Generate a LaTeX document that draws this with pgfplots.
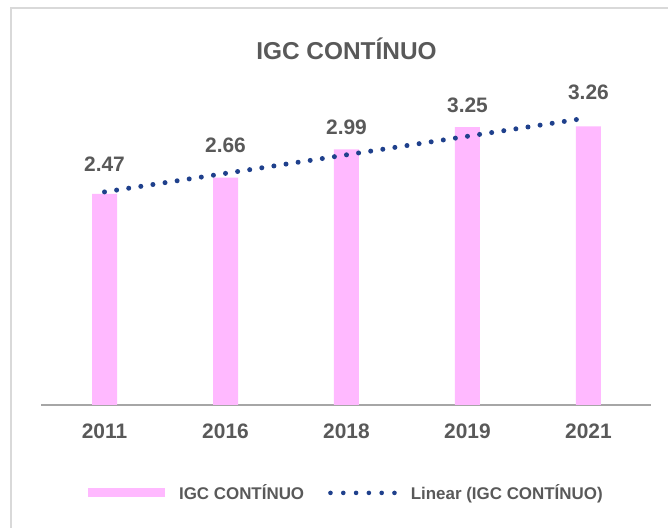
\documentclass[border=0pt]{standalone}
\usepackage{pgfplots}
\pgfplotsset{compat=1.18}
\usepackage{fontspec}
\setmainfont{Liberation Sans}
\definecolor{barpink}{RGB}{255,185,255}
\definecolor{trendblue}{RGB}{31,64,140}
\definecolor{txtgray}{RGB}{89,89,89}
\definecolor{axgray}{RGB}{166,166,166}
\definecolor{framegray}{RGB}{217,217,217}
\begin{document}
\begin{tikzpicture}[x=1bp,y=1bp]
\useasboundingbox (0,0) rectangle (668,528);
\draw[framegray, line width=1.5bp] (11,0) -- (11,520) -- (668,520);
\node[anchor=base, font=\fontsize{24.5}{29}\selectfont\bfseries, text=txtgray, inner sep=0pt] at (346.5,468.7) {IGC CONTÍNUO};
\begin{axis}[
  at={(41bp,123bp)}, anchor=south west, scale only axis,
  width=610bp, height=342bp,
  xmin=0.475, xmax=5.517, ymin=0, ymax=4,
  axis lines=left, axis y line=none,
  axis line style={-, axgray, line width=1.5bp},
  xtick={1,2,3,4,5}, xticklabels={2011,2016,2018,2019,2021},
  major tick length=0pt,
  xticklabel style={anchor=center, yshift=-26.7bp, inner sep=0pt,
    font=\fontsize{21}{25}\selectfont\bfseries, text=txtgray},
  ytick=\empty,
  clip=false,
  legend columns=2,
  legend style={at={(0.499,-0.257)}, anchor=center, draw=none, fill=none,
    inner sep=0pt, nodes={inner sep=0pt},
    font=\fontsize{17}{20}\selectfont\bfseries, text=txtgray,
    /tikz/every odd column/.append style={column sep=14bp},
    /tikz/every even column/.append style={column sep=24bp}},
  legend cell align=left,
]
\addplot[ybar, bar width=25bp, bar shift=0pt, fill=barpink, draw=none,
  legend image code/.code={\fill[barpink] (0bp,-4.5bp) rectangle (77bp,4.5bp);}]
  coordinates {(1,2.47) (2,2.66) (3,2.99) (4,3.25) (5,3.26)};
\addlegendentry{IGC CONTÍNUO}
\addplot[trendblue, line width=5bp, line cap=round, dash pattern=on 0pt off 12.24bp, mark=none,
  legend image code/.code={\draw[trendblue, line width=4.6bp, line cap=round, dash pattern=on 0pt off 12.8bp] (0bp,0bp) -- (64bp,0bp);}]
  coordinates {(1,2.492) (5,3.360)};
\addlegendentry{Linear (IGC CONTÍNUO)}
\addplot[draw=none, mark=none, forget plot,
  point meta=explicit symbolic,
  nodes near coords,
  every node near coord/.append style={anchor=center, inner sep=0pt,
    font=\fontsize{21}{25}\selectfont\bfseries, text=txtgray}]
  coordinates {(1,2.82) [2.47] (2,3.04) [2.66] (3,3.25) [2.99] (4,3.50) [3.25] (5,3.66) [3.26]};
\end{axis}
\end{tikzpicture}
\end{document}
